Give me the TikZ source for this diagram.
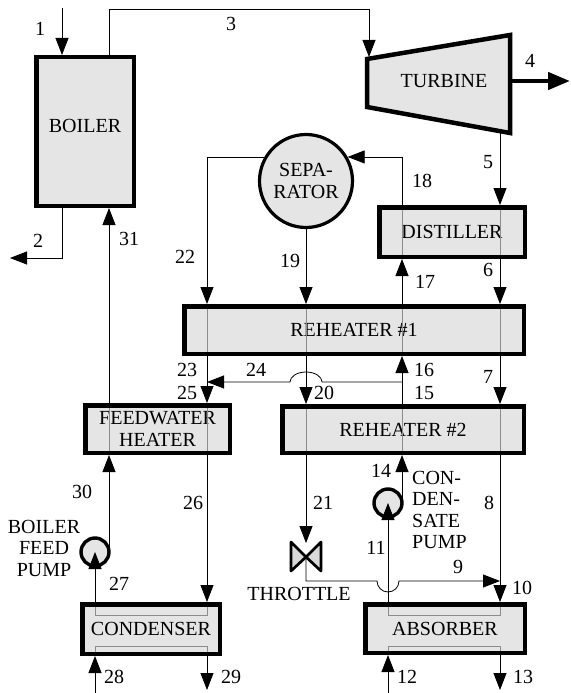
\documentclass[tikz,border=0pt]{standalone}
\usepackage{fontspec}
\setmainfont{Liberation Serif}
\usetikzlibrary{arrows.meta}
\begin{document}
\begin{tikzpicture}[x=1pt,y=-1pt,
  every node/.style={font=\fontsize{20}{21.5}\selectfont, inner sep=0pt},
  box/.style={draw=black, line width=4.5pt, fill=black!10, align=center},
  pipe/.style={line width=0.8pt},
  arr/.style={pipe, -{Triangle[length=17pt,width=13pt]}},
  tube/.style={draw=black!45, line width=0.8pt, shorten >=4.5pt, shorten <=4.5pt},
  pumpc/.style={circle, draw, line width=3.4pt, fill=black!10, minimum size=28pt, outer sep=0pt}]
\useasboundingbox (0,0) rectangle (570,693);
% lanes
\coordinate (La) at (62,0);
\coordinate (Lb) at (109,0);
\coordinate (Lc) at (95,0);
\coordinate (Ld) at (207,0);
\coordinate (Le) at (306,0);
\coordinate (Lh) at (388,0);
\coordinate (Lf) at (402,0);
\coordinate (Lg) at (500,0);
% equipment
\node[box, minimum width=97.5pt, minimum height=148.5pt, text depth=12pt] (boiler) at (85,131.5) {BOILER};
\node[box, minimum width=145.5pt, minimum height=49.5pt] (dist) at (452,232) {DISTILLER};
\node[box, minimum width=339.5pt, minimum height=47.5pt] (rh1) at (354,330) {REHEATER \#1};
\node[box, minimum width=241.5pt, minimum height=46.5pt] (rh2) at (403,429.5) {REHEATER \#2};
\node[box, minimum width=144.5pt, minimum height=47.5pt] (fwh) at (157.5,429) {FEEDWATER\\HEATER};
\node[box, minimum width=137.5pt, minimum height=49.5pt] (cond) at (151,629) {CONDENSER};
\node[box, minimum width=159.5pt, minimum height=48.5pt] (abs) at (445,628.5) {ABSORBER};
\node[circle, draw, line width=3.2pt, fill=black!10, minimum size=93pt, align=center] (sep) at (306,181) {SEPA-\\RATOR};
% turbine
\coordinate (tA) at (367,59);
\coordinate (tB) at (510,35);
\coordinate (tC) at (510,133);
\coordinate (tD) at (367,107);
\filldraw[fill=black!10, line width=4.5pt, line join=miter] (tA) -- (tB) -- (tC) -- (tD) -- cycle;
\node (turb) at (444,81) {TURBINE};
\coordinate (tin) at (369,57);
\coordinate (tout) at (500,131);
\coordinate (tsh) at (510,81);
% pumps
\node[pumpc] (bfp) at (95,552) {};
\node[pumpc] (cp) at (388,503) {};
% throttle
\coordinate (thr) at (306,557);
\coordinate (thrtop) at (306,543);
\filldraw[fill=black!15, line width=2.7pt, line join=round] (thr) -- ++(-15,-15) -- ++(0,29) -- cycle (thr) -- ++(15,-15) -- ++(0,29) -- cycle;
% tubes inside boxes
\draw[tube] (dist.north -| Lf) -- (dist.south -| Lf);
\draw[tube] (dist.north -| Lg) -- (dist.south -| Lg);
\foreach \L in {Ld,Le,Lf,Lg} \draw[tube] (rh1.north -| \L) -- (rh1.south -| \L);
\foreach \L in {Le,Lf,Lg} \draw[tube] (rh2.north -| \L) -- (rh2.south -| \L);
\foreach \L in {Lb,Ld} \draw[tube] (fwh.north -| \L) -- (fwh.south -| \L);
\draw[tube] (cond.north -| Lc) -- ++(0,13) -| (cond.north -| Ld);
\draw[tube] (cond.south -| Lc) -- ++(0,-10) -| (cond.south -| Ld);
\draw[tube] (abs.north -| Lh) -- ++(0,13) -| (abs.north -| Lg);
\draw[tube] (abs.south -| Lh) -- ++(0,-9) -| (abs.south -| Lg);
% connectors
\coordinate (s1) at (62,8);
\draw[arr] (s1) -- (boiler.north -| La);
\coordinate (e2) at (10,258);
\draw[arr] (boiler.south -| La) |- (e2);
\coordinate (c3) at (369,9);
\draw[arr] (boiler.north -| Lb) |- (c3) -- (tin);
\coordinate (e4) at (570,81);
\draw[line width=4.5pt, -{Triangle[length=22pt,width=17pt]}] (tsh) -- (e4);
\draw[arr] (tout) -- (dist.north -| Lg);
\draw[arr] (dist.south -| Lg) -- (rh1.north -| Lg);
\draw[arr] (rh1.south -| Lg) -- (rh2.north -| Lg);
\draw[arr] (rh2.south -| Lg) -- (abs.north -| Lg);
\coordinate (e13) at (500,690);
\draw[arr] (abs.south -| Lg) -- (e13);
\coordinate (s12) at (388,693);
\draw[arr] (s12) -- (abs.south -| Lh);
\draw[arr] (abs.north -| Lh) -- (cp.center);
\draw[arr] (cp.east) -- (rh2.south -| Lf);
\draw[arr] (rh2.north -| Lf) -- (rh1.south -| Lf);
\coordinate (j24) at (402,382);
\coordinate (h24) at (322,382);
\draw[arr] (j24) -- (h24) arc[start angle=0,end angle=180,x radius=16pt,y radius=10pt] -- (j24 -| Ld);
\draw[arr] (rh1.north -| Lf) -- (dist.south -| Lf);
\draw[arr] (dist.north -| Lf) |- (sep.30);
\draw[arr] (sep.150) -| (rh1.north -| Ld);
\draw[arr] (sep.south) -- (rh1.north -| Le);
\draw[arr] (rh1.south -| Le) -- (rh2.north -| Le);
\draw[arr] (rh2.south -| Le) -- (thrtop);
\coordinate (j9) at (306,581);
\coordinate (h9) at (377,581);
\draw[arr] (thr) -- (j9) -- (h9) arc[start angle=180,end angle=360,radius=11pt] -- (j9 -| Lg);
\draw[arr] (rh1.south -| Ld) -- (fwh.north -| Ld);
\draw[arr] (fwh.south -| Ld) -- (cond.north -| Ld);
\coordinate (e29) at (207,690);
\draw[arr] (cond.south -| Ld) -- (e29);
\coordinate (s28) at (95,693);
\draw[arr] (s28) -- (cond.south -| Lc);
\draw[arr] (cond.north -| Lc) -- (bfp.center);
\draw[arr] (bfp.east) -- (fwh.south -| Lb);
\draw[arr] (fwh.north -| Lb) -- (boiler.south -| Lb);
% labels
\node (n1) at (40,29) {1};
\node (n2) at (38,241) {2};
\node (n3) at (231,24) {3};
\node (n4) at (530,61) {4};
\node (n5) at (488,162) {5};
\node (n6) at (488,270) {6};
\node (n7) at (488,377) {7};
\node (n8) at (489,503) {8};
\node (n9) at (458,567) {9};
\node (n10) at (522,588) {10};
\node (n11) at (376,548) {11};
\node (n12) at (407,677) {12};
\node (n13) at (523,677) {13};
\node (n14) at (381,471) {14};
\node (n15) at (424,393) {15};
\node (n16) at (424,370) {16};
\node (n17) at (425,282) {17};
\node (n18) at (422,181) {18};
\node (n19) at (290,261) {19};
\node (n20) at (324,393) {20};
\node (n21) at (323,503) {21};
\node (n22) at (185,257) {22};
\node (n23) at (187,370) {23};
\node (n24) at (256,370) {24};
\node (n25) at (187,393) {25};
\node (n26) at (193,503) {26};
\node (n27) at (119,584) {27};
\node (n28) at (114,677) {28};
\node (n29) at (231,677) {29};
\node (n30) at (82,492) {30};
\node (n31) at (129,239) {31};
\node[align=center] (lbfp) at (44,548) {BOILER\\FEED\\PUMP};
\node[align=left, anchor=west] (lcp) at (412,510) {CON-\\DEN-\\SATE\\PUMP};
\node (lthr) at (299,594) {THROTTLE};
\end{tikzpicture}
\end{document}
